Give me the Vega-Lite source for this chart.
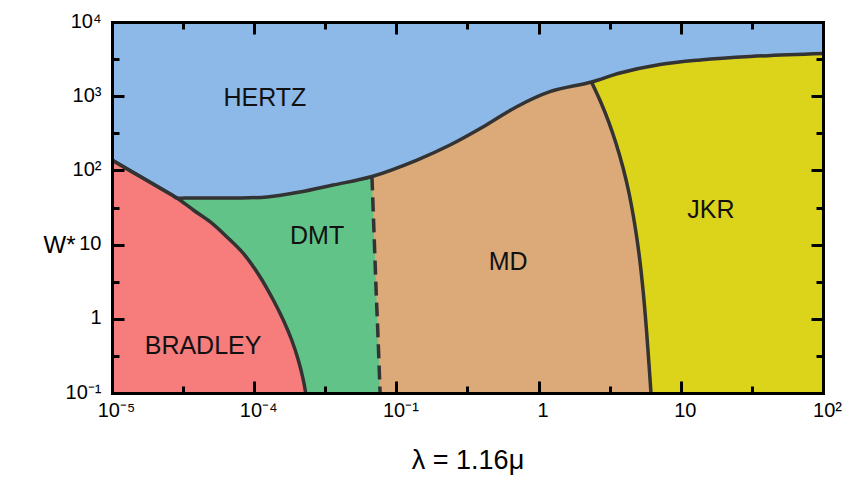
{
  "$schema": "https://vega.github.io/schema/vega-lite/v6.json",
  "width": 711,
  "height": 371,
  "autosize": "none",
  "padding": {"left": 112, "top": 22, "right": 25, "bottom": 84},
  "background": "white",
  "config": {"view": {"stroke": null}, "font": "Liberation Sans"},
  "datasets": {
    "frame": [{"x0": 0.001, "x1": 100, "y0": 0.1, "y1": 10000}],
    "hertz": [
      {"x": 0.001, "y": 138}, {"x": 0.001706, "y": 75.86}, {"x": 0.002642, "y": 46.45}, {"x": 0.002865, "y": 42.46},
      {"x": 0.00326, "y": 42.46}, {"x": 0.007094, "y": 42.46}, {"x": 0.0123, "y": 43.83}, {"x": 0.02099, "y": 51.15},
      {"x": 0.03581, "y": 63.57}, {"x": 0.0673, "y": 82.76}, {"x": 0.1396, "y": 138},
      {"x": 0.2382, "y": 219.9}, {"x": 0.4085, "y": 388}, {"x": 0.7015, "y": 722},
      {"x": 1.202, "y": 1150}, {"x": 2.355, "y": 1553}, {"x": 3.736, "y": 2055},
      {"x": 7.14, "y": 2674}, {"x": 13.65, "y": 3075}, {"x": 30.67, "y": 3428},
      {"x": 100, "y": 3763}
    ],
    "bradley": [
      {"x": 0.02302, "y": 0.1}, {"x": 0.02215, "y": 0.1497}, {"x": 0.02042, "y": 0.2785},
      {"x": 0.01835, "y": 0.518}, {"x": 0.01601, "y": 0.9634}, {"x": 0.01362, "y": 1.792},
      {"x": 0.01098, "y": 3.693}, {"x": 0.008381, "y": 7.632}, {"x": 0.006405, "y": 12.78},
      {"x": 0.004889, "y": 20.36}, {"x": 0.003728, "y": 29.26}, {"x": 0.002865, "y": 42.46},
      {"x": 0.002642, "y": 46.45}, {"x": 0.001706, "y": 75.86}, {"x": 0.001, "y": 138}
    ],
    "dmt": [
      {"x": 0.0768, "y": 0.1}, {"x": 0.0744, "y": 0.518}, {"x": 0.072, "y": 2.44},
      {"x": 0.0695, "y": 15.7}, {"x": 0.0673, "y": 82.76}
    ],
    "jkr": [
      {"x": 6.17, "y": 0.1}, {"x": 5.966, "y": 0.2535}, {"x": 5.757, "y": 0.644},
      {"x": 5.451, "y": 2.228}, {"x": 5.075, "y": 7.71}, {"x": 4.725, "y": 19.54},
      {"x": 4.323, "y": 49.6}, {"x": 3.929, "y": 107.7}, {"x": 3.496, "y": 234},
      {"x": 3.133, "y": 435}, {"x": 2.754, "y": 809}, {"x": 2.355, "y": 1553}
    ],
    "labels": [
      {"text": "HERTZ", "x": 0.0119, "y": 946},
      {"text": "DMT", "x": 0.0277, "y": 13.1},
      {"text": "MD", "x": 0.61, "y": 5.82},
      {"text": "JKR", "x": 16.3, "y": 29.2},
      {"text": "BRADLEY", "x": 0.00437, "y": 0.43}
    ]
  },
  "layer": [
    {
      "data": {"name": "frame"},
      "mark": {"type": "rect", "color": "#dcd31b"},
      "encoding": {
        "x": {"field": "x0", "type": "quantitative", "scale": {"type": "log", "domain": [0.001, 100], "nice": false},
          "axis": {"orient": "bottom", "values": [0.001, 0.01, 0.1, 1, 10, 100], "ticks": false, "domain": false, "grid": false,
            "labelExpr": "datum.value < 0.005 ? '10⁻⁵' : datum.value < 0.05 ? '10⁻⁴' : datum.value < 0.5 ? '10⁻¹' : datum.value < 5 ? '1' : datum.value < 50 ? '10' : '10²'",
            "labelFontSize": 20, "labelColor": "black", "labelPadding": 7, "labelOffset": 4, "labelFlush": false, "labelOverlap": false,
            "title": "λ = 1.16μ", "titleFontSize": 27, "titleFontWeight": "normal", "titleColor": "black",
            "titleY": 67, "titleBaseline": "middle", "zindex": 1}},
        "x2": {"field": "x1"},
        "y": {"field": "y0", "type": "quantitative", "scale": {"type": "log", "domain": [0.1, 10000], "nice": false},
          "axis": {"orient": "left", "values": [0.1, 1, 10, 100, 1000, 10000], "ticks": false, "domain": false, "grid": false,
            "labelExpr": "datum.value < 0.5 ? '10⁻¹' : datum.value < 5 ? '1' : datum.value < 50 ? '10' : datum.value < 500 ? '10²' : datum.value < 5000 ? '10³' : '10⁴'",
            "labelFontSize": 20, "labelColor": "black", "labelPadding": 11, "labelOffset": -1, "labelFlush": false, "labelOverlap": false, "labelBaseline": "middle",
            "title": "W*", "titleAngle": 0, "titleX": -53, "titleY": 223, "titleAlign": "center", "titleBaseline": "middle",
            "titleFontSize": 24, "titleFontWeight": "normal", "titleColor": "black", "zindex": 1}},
        "y2": {"field": "y1"}
      }
    },
    {
      "data": {"name": "jkr"},
      "mark": {"type": "area", "orient": "horizontal", "interpolate": "catmull-rom", "color": "#dcaa78", "opacity": 1},
      "encoding": {
        "y": {"field": "y", "type": "quantitative", "scale": {"type": "log", "domain": [0.1, 10000], "nice": false},
          "axis": {"orient": "left", "values": [0.3162, 3.162, 31.62, 316.2, 3162], "labels": false, "ticks": true, "tickSize": -7, "tickWidth": 3, "tickColor": "black", "domain": true, "domainWidth": 3, "domainColor": "black", "domainCap": "square", "grid": false, "title": null, "zindex": 1}},
        "x": {"field": "x", "type": "quantitative", "scale": {"type": "log", "domain": [0.001, 100], "nice": false},
          "axis": {"orient": "bottom", "values": [0.003162, 0.03162, 0.3162, 3.162, 31.62], "labels": false, "ticks": true, "tickSize": -7, "tickWidth": 3, "tickColor": "black", "domain": true, "domainWidth": 3, "domainColor": "black", "domainCap": "square", "grid": false, "title": null, "zindex": 1}},
        "x2": {"datum": 0.001}
      }
    },
    {
      "data": {"name": "dmt"},
      "mark": {"type": "area", "orient": "horizontal", "interpolate": "catmull-rom", "color": "#62c388", "opacity": 1},
      "encoding": {
        "y": {"field": "y", "type": "quantitative", "scale": {"type": "log", "domain": [0.1, 10000], "nice": false},
          "axis": {"orient": "left", "values": [0.1, 1, 10, 100, 1000, 10000], "labels": false, "ticks": true, "tickSize": -12, "tickWidth": 3, "tickColor": "black", "domain": false, "grid": false, "title": null, "zindex": 1}},
        "x": {"field": "x", "type": "quantitative", "scale": {"type": "log", "domain": [0.001, 100], "nice": false},
          "axis": {"orient": "bottom", "values": [0.001, 0.01, 0.1, 1, 10, 100], "labels": false, "ticks": true, "tickSize": -12, "tickWidth": 3, "tickColor": "black", "domain": false, "grid": false, "title": null, "zindex": 1}},
        "x2": {"datum": 0.001}
      }
    },
    {
      "data": {"name": "bradley"},
      "mark": {"type": "area", "orient": "horizontal", "interpolate": "catmull-rom", "color": "#f77c7c", "opacity": 1},
      "encoding": {
        "y": {"field": "y", "type": "quantitative", "scale": {"type": "log", "domain": [0.1, 10000], "nice": false},
          "axis": {"orient": "right", "values": [0.3162, 3.162, 31.62, 316.2, 3162], "labels": false, "ticks": true, "tickSize": -7, "tickWidth": 3, "tickColor": "black", "domain": true, "domainWidth": 3, "domainColor": "black", "domainCap": "square", "grid": false, "title": null, "zindex": 1}},
        "x": {"field": "x", "type": "quantitative", "scale": {"type": "log", "domain": [0.001, 100], "nice": false},
          "axis": {"orient": "top", "values": [0.003162, 0.03162, 0.3162, 3.162, 31.62], "labels": false, "ticks": true, "tickSize": -7, "tickWidth": 3, "tickColor": "black", "domain": true, "domainWidth": 3, "domainColor": "black", "domainCap": "square", "grid": false, "title": null, "zindex": 1}},
        "x2": {"datum": 0.001}
      }
    },
    {
      "data": {"name": "hertz"},
      "mark": {"type": "area", "interpolate": "catmull-rom", "color": "#8db9e8", "opacity": 1},
      "encoding": {
        "x": {"field": "x", "type": "quantitative", "scale": {"type": "log", "domain": [0.001, 100], "nice": false},
          "axis": {"orient": "top", "values": [0.001, 0.01, 0.1, 1, 10, 100], "labels": false, "ticks": true, "tickSize": -12, "tickWidth": 3, "tickColor": "black", "domain": false, "grid": false, "title": null, "zindex": 1}},
        "y": {"field": "y", "type": "quantitative", "scale": {"type": "log", "domain": [0.1, 10000], "nice": false},
          "axis": {"orient": "right", "values": [0.1, 1, 10, 100, 1000, 10000], "labels": false, "ticks": true, "tickSize": -12, "tickWidth": 3, "tickColor": "black", "domain": false, "grid": false, "title": null, "zindex": 1}},
        "y2": {"datum": 10000}
      }
    },
    {
      "data": {"name": "hertz"},
      "mark": {"type": "line", "interpolate": "catmull-rom", "color": "#333333", "strokeWidth": 3.5},
      "encoding": {
        "x": {"field": "x", "type": "quantitative", "scale": {"type": "log", "domain": [0.001, 100], "nice": false}, "axis": null},
        "y": {"field": "y", "type": "quantitative", "scale": {"type": "log", "domain": [0.1, 10000], "nice": false}, "axis": null}
      }
    },
    {
      "data": {"name": "bradley"},
      "mark": {"type": "line", "interpolate": "catmull-rom", "color": "#333333", "strokeWidth": 3.5},
      "encoding": {
        "x": {"field": "x", "type": "quantitative", "scale": {"type": "log", "domain": [0.001, 100], "nice": false}, "axis": null},
        "y": {"field": "y", "type": "quantitative", "scale": {"type": "log", "domain": [0.1, 10000], "nice": false}, "axis": null}
      }
    },
    {
      "data": {"name": "jkr"},
      "mark": {"type": "line", "interpolate": "catmull-rom", "color": "#333333", "strokeWidth": 3.5},
      "encoding": {
        "x": {"field": "x", "type": "quantitative", "scale": {"type": "log", "domain": [0.001, 100], "nice": false}, "axis": null},
        "y": {"field": "y", "type": "quantitative", "scale": {"type": "log", "domain": [0.1, 10000], "nice": false}, "axis": null}
      }
    },
    {
      "data": {"name": "dmt"},
      "mark": {"type": "line", "interpolate": "catmull-rom", "color": "#333333", "strokeWidth": 3.5, "strokeDash": [14, 7]},
      "encoding": {
        "x": {"field": "x", "type": "quantitative", "scale": {"type": "log", "domain": [0.001, 100], "nice": false}, "axis": null},
        "y": {"field": "y", "type": "quantitative", "scale": {"type": "log", "domain": [0.1, 10000], "nice": false}, "axis": null}
      }
    },
    {
      "data": {"name": "labels"},
      "mark": {"type": "text", "fontSize": 25, "color": "#111111", "align": "center", "baseline": "middle"},
      "encoding": {
        "x": {"field": "x", "type": "quantitative", "scale": {"type": "log", "domain": [0.001, 100], "nice": false}, "axis": null},
        "y": {"field": "y", "type": "quantitative", "scale": {"type": "log", "domain": [0.1, 10000], "nice": false}, "axis": null},
        "text": {"field": "text"}
      }
    }
  ],
  "resolve": {"axis": {"x": "independent", "y": "independent"}}
}
